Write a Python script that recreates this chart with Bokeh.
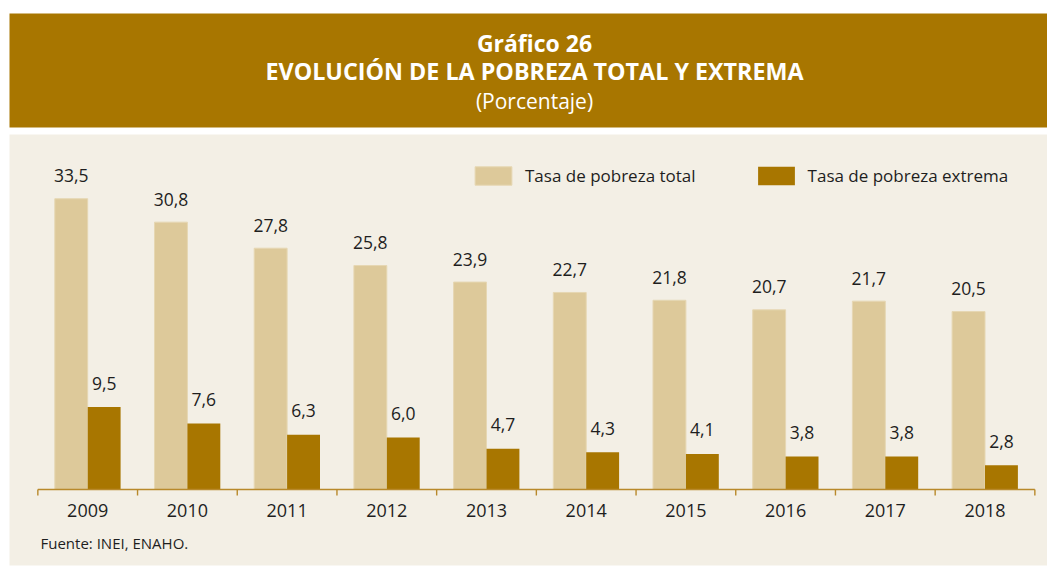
from bokeh.plotting import figure
from bokeh.models import Range1d, Legend, LegendItem, ColumnDataSource
from bokeh.core.properties import value
from bokeh.embed import file_html
from bokeh.resources import INLINE

# ---------------- data ----------------
years = ["2009", "2010", "2011", "2012", "2013", "2014", "2015", "2016", "2017", "2018"]
pobreza_total = [33.5, 30.8, 27.8, 25.8, 23.9, 22.7, 21.8, 20.7, 21.7, 20.5]
pobreza_extrema = [9.5, 7.6, 6.3, 6.0, 4.7, 4.3, 4.1, 3.8, 3.8, 2.8]
series_names = ["Tasa de pobreza total", "Tasa de pobreza extrema"]
title_lines = ["Gráfico 26", "EVOLUCIÓN DE LA POBREZA TOTAL Y EXTREMA", "(Porcentaje)"]
source_note = "Fuente: INEI, ENAHO."

# ---------------- layout ----------------
W, H = 1047, 566
PX_X = 99.7          # pixels per category
X0 = 87.2            # pixel x of first category centre
PX_Y = 8.68          # pixels per percentage point
BASE = 489.0         # pixel y (from top) of the baseline

def fx(px):
    return (px - X0) / PX_X

def fy(py):
    return (BASE - py) / PX_Y

GOLD = "#A87600"
LIGHT = "#DDC99A"
BG = "#F3EFE5"
AXIS = "#B8892B"
TXT = "#1E1E1E"
FONT = value("Open Sans")

p = figure(width=W, height=H, output_backend="svg", toolbar_location=None,
           x_range=Range1d(fx(0), fx(W)), y_range=Range1d(fy(H), fy(0)),
           x_axis_type=None, y_axis_type=None, min_border=0)
p.outline_line_color = None
p.background_fill_color = "white"
p.border_fill_color = "white"
p.grid.visible = False

# header band and panel
p.quad(left=fx(9), right=fx(W), top=fy(13), bottom=fy(127), fill_color=GOLD, line_color=None)
p.quad(left=fx(9), right=fx(W), top=fy(134), bottom=fy(565), fill_color=BG, line_color=None)

# title
title_y = [fy(42.5), fy(70.5), fy(100.5)]
title_size = ["23px", "23.3px", "21px"]
title_style = ["bold", "bold", "normal"]
for t, yy, sz, st in zip(title_lines, title_y, title_size, title_style):
    p.text(x=[fx(534)], y=[yy], text=[t], text_font=FONT, text_font_size=sz,
           text_font_style=st, text_color="white", text_align="center",
           text_baseline="middle")

# bars
idx = list(range(len(years)))
off = 0.165
bw = 0.33
src = ColumnDataSource(dict(
    xt=[i - off for i in idx], xe=[i + off for i in idx],
    total=pobreza_total, extrema=pobreza_extrema,
    lt=[f"{v:.1f}".replace(".", ",") for v in pobreza_total],
    le=[f"{v:.1f}".replace(".", ",") for v in pobreza_extrema],
))
r1 = p.vbar(x="xt", top="total", bottom=0, width=bw, source=src,
            fill_color=LIGHT, line_color="#E6D7B3", line_width=1)
r2 = p.vbar(x="xe", top="extrema", bottom=0, width=bw, source=src,
            fill_color=GOLD, line_color=None)

# value labels
p.text(x="xt", y="total", text="lt", source=src, text_font=FONT, text_font_size="17.5px",
       text_color=TXT, text_align="center", text_baseline="middle", y_offset=-23)
p.text(x="xe", y="extrema", text="le", source=src, text_font=FONT, text_font_size="17.5px",
       text_color=TXT, text_align="center", text_baseline="middle", y_offset=-24)

# axis line and ticks at category boundaries
bounds = [i - 0.5 for i in range(len(years) + 1)]
p.segment(x0=[bounds[0]], x1=[bounds[-1]], y0=[0], y1=[0], line_color=AXIS, line_width=1.6)
p.segment(x0=bounds, x1=bounds, y0=[0] * len(bounds), y1=[-6 / PX_Y] * len(bounds),
          line_color=AXIS, line_width=1.4)

# year labels
p.text(x=idx, y=[fy(509.5)] * len(idx), text=years, text_font=FONT, text_font_size="18px",
       text_color=TXT, text_align="center", text_baseline="middle")

# source note
p.text(x=[fx(40)], y=[fy(542.5)], text=[source_note], text_font=FONT, text_font_size="15px",
       text_color=TXT, text_align="left", text_baseline="middle")

# legend
legend = Legend(items=[LegendItem(label=series_names[0], renderers=[r1]),
                       LegendItem(label=series_names[1], renderers=[r2])],
                orientation="horizontal", location=(470, H - 187),
                glyph_width=46, glyph_height=23, label_standoff=9, spacing=57,
                padding=0, margin=0, border_line_color=None, background_fill_alpha=0,
                label_text_font="Open Sans", label_text_font_size="17px",
                label_text_color=TXT, label_height=23)
p.add_layout(legend, "center")

open("out.html", "w").write(file_html(p, INLINE))
